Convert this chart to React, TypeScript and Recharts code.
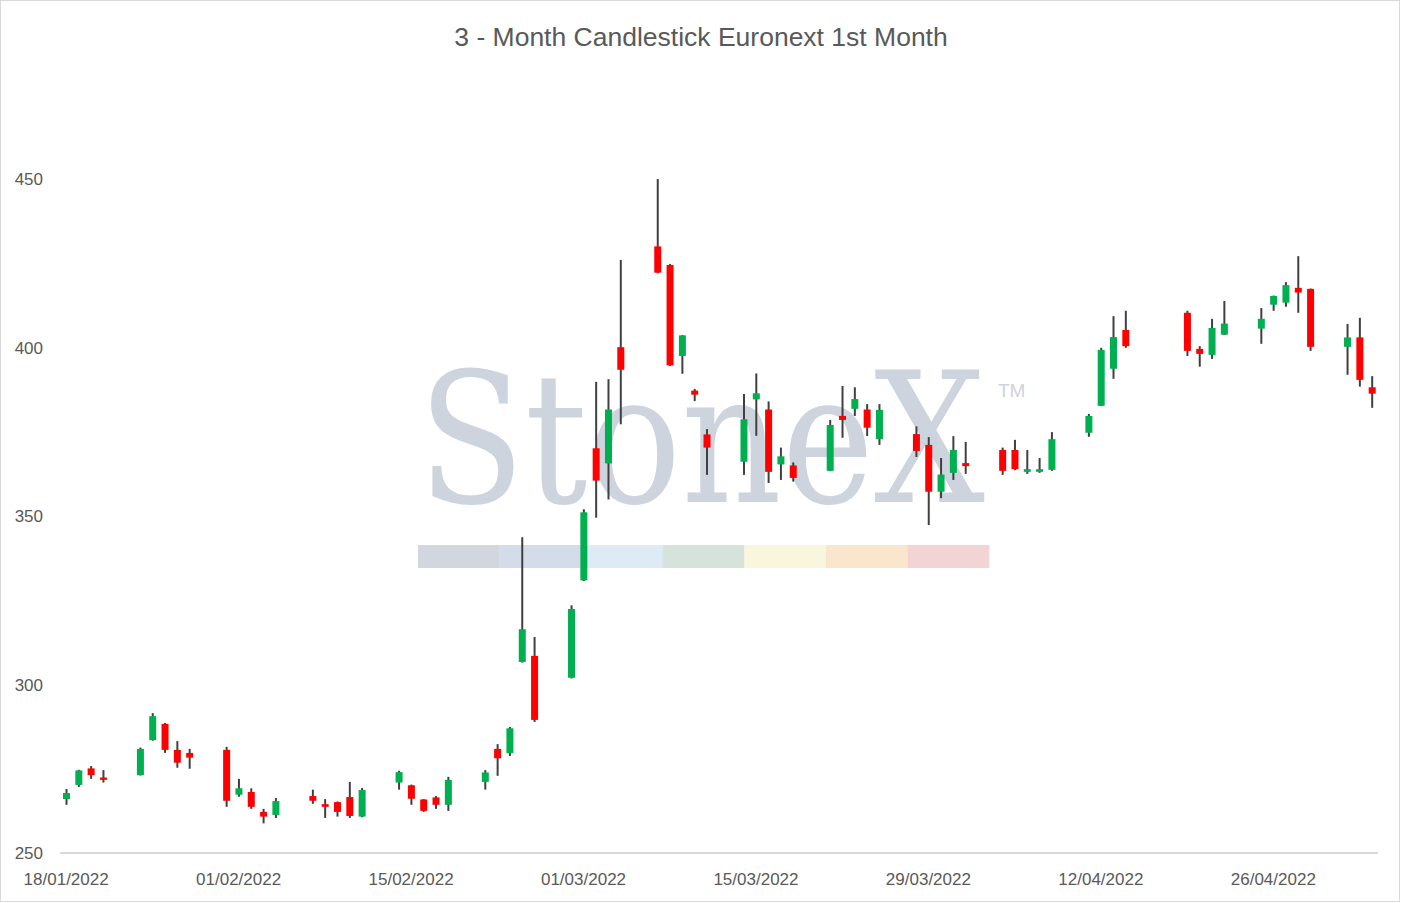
import { Bar, ComposedChart, XAxis, YAxis } from 'recharts';

// trading days, dd/mm/yyyy
const dates = [
  '18/01/2022', '19/01/2022', '20/01/2022', '21/01/2022', '24/01/2022', '25/01/2022', '26/01/2022',
  '27/01/2022', '28/01/2022', '31/01/2022', '01/02/2022', '02/02/2022', '03/02/2022', '04/02/2022',
  '07/02/2022', '08/02/2022', '09/02/2022', '10/02/2022', '11/02/2022', '14/02/2022', '15/02/2022',
  '16/02/2022', '17/02/2022', '18/02/2022', '21/02/2022', '22/02/2022', '23/02/2022', '24/02/2022',
  '25/02/2022', '28/02/2022', '01/03/2022', '02/03/2022', '03/03/2022', '04/03/2022', '07/03/2022',
  '08/03/2022', '09/03/2022', '10/03/2022', '11/03/2022', '14/03/2022', '15/03/2022', '16/03/2022',
  '17/03/2022', '18/03/2022', '21/03/2022', '22/03/2022', '23/03/2022', '24/03/2022', '25/03/2022',
  '28/03/2022', '29/03/2022', '30/03/2022', '31/03/2022', '01/04/2022', '04/04/2022', '05/04/2022',
  '06/04/2022', '07/04/2022', '08/04/2022', '11/04/2022', '12/04/2022', '13/04/2022', '14/04/2022',
  '19/04/2022', '20/04/2022', '21/04/2022', '22/04/2022', '25/04/2022', '26/04/2022', '27/04/2022',
  '28/04/2022', '29/04/2022', '02/05/2022', '03/05/2022', '04/05/2022',
];

const opens = [
  266.0, 270.2, 275.1, 272.4, 273.1, 283.5, 288.3, 280.6, 279.7, 280.6, 267.3, 268.1, 262.2, 261.3,
  266.9, 264.5, 265.1, 266.6, 260.8, 270.9, 270.1, 265.9, 266.5, 264.3, 271.1, 280.9, 279.6, 306.7,
  308.5, 302.0, 330.9, 370.1, 365.6, 400.1, 430.0, 424.5, 397.5, 387.2, 374.2, 366.1, 384.6, 381.6,
  365.3, 365.0, 363.4, 379.7, 381.8, 381.6, 372.8, 374.3, 371.1, 357.2, 362.8, 365.7, 369.6, 369.6,
  363.1, 363.1, 363.7, 374.7, 382.7, 393.7, 405.2, 410.3, 399.6, 397.8, 403.8, 405.6, 412.7, 413.3,
  417.7, 417.4, 400.2, 403.0, 388.2,
];

const highs = [
  269.0, 274.7, 275.8, 274.6, 281.3, 291.5, 288.6, 283.2, 280.9, 281.5, 272.0, 269.2, 263.1, 266.3,
  268.8, 266.0, 265.3, 271.1, 269.3, 274.4, 270.3, 266.0, 266.9, 272.6, 274.6, 282.3, 287.4, 343.7,
  314.1, 323.5, 352.0, 389.8, 390.6, 426.0, 450.0, 424.8, 403.7, 387.7, 375.8, 386.2, 392.3, 384.0,
  370.3, 365.9, 378.5, 388.6, 388.2, 383.2, 383.2, 376.6, 373.4, 367.2, 373.7, 372.0, 370.3, 372.6,
  369.6, 367.2, 374.9, 380.3, 399.9, 409.3, 410.9, 410.9, 400.4, 408.5, 413.8, 411.7, 415.4, 419.4,
  427.1, 417.5, 407.0, 408.8, 391.5,
];

const lows = [
  264.3, 269.6, 272.0, 270.9, 273.0, 283.3, 279.7, 275.3, 275.0, 263.7, 266.7, 263.1, 258.8, 260.4,
  264.6, 260.4, 260.8, 260.4, 260.6, 268.8, 264.3, 262.2, 263.1, 262.5, 268.8, 272.9, 278.8, 306.5,
  288.9, 301.8, 330.7, 349.5, 354.9, 377.2, 422.0, 394.5, 392.2, 384.1, 362.2, 362.2, 373.8, 359.8,
  360.7, 360.2, 363.3, 373.2, 379.7, 373.7, 371.1, 367.5, 347.3, 355.3, 360.7, 362.5, 362.2, 363.6,
  362.5, 362.8, 363.4, 373.5, 382.6, 390.7, 399.9, 397.5, 394.3, 396.6, 403.7, 401.1, 410.9, 412.1,
  410.3, 399.0, 391.9, 388.4, 382.1,
];

const closes = [
  267.8, 274.5, 273.1, 271.7, 280.9, 290.6, 280.6, 276.8, 278.3, 265.5, 269.2, 263.7, 260.8, 265.4,
  265.5, 263.7, 262.2, 261.0, 268.7, 274.0, 266.1, 262.5, 264.3, 271.7, 273.9, 278.1, 287.0, 316.4,
  289.5, 322.4, 351.1, 360.5, 381.6, 393.4, 422.2, 394.7, 403.6, 386.0, 370.3, 378.7, 386.4, 363.1,
  367.7, 361.3, 377.0, 378.5, 384.7, 376.2, 381.5, 369.3, 357.2, 362.3, 369.6, 364.8, 363.4, 363.9,
  363.9, 363.9, 372.8, 379.7, 399.3, 403.1, 400.4, 399.0, 398.1, 405.8, 407.1, 408.5, 415.3, 418.5,
  416.3, 400.2, 403.0, 390.4, 386.3,
];

const xTickDates = [
  '18/01/2022', '01/02/2022', '15/02/2022', '01/03/2022', '15/03/2022', '29/03/2022', '12/04/2022', '26/04/2022',
];
const yTicks = [250, 300, 350, 400, 450];

const DAY = 86400000;
const toTime = (s: string) => {
  const [d, m, y] = s.split('/').map(Number);
  return Date.UTC(y, m - 1, d);
};
const fmtDate = (t: number) => {
  const d = new Date(t);
  const p = (n: number) => String(n).padStart(2, '0');
  return `${p(d.getUTCDate())}/${p(d.getUTCMonth() + 1)}/${d.getUTCFullYear()}`;
};

const data = dates.map((s, i) => ({
  t: toTime(s),
  open: opens[i],
  high: highs[i],
  low: lows[i],
  close: closes[i],
}));

const xTicks = xTickDates.map(toTime);
const xDomain = [data[0].t - DAY / 2, data[data.length - 1].t + DAY / 2];

const UP = '#00b050';
const DOWN = '#ff0000';
const WICK = '#404040';
const TEXT = '#595959';
const FONT = '"Liberation Sans", Arial, sans-serif';

const Candle = (props: any) => {
  const { x, y, width, height } = props;
  const p = props.payload ?? props;
  const { open, close, high, low } = p;
  const top = Math.min(y, y + height);
  const bottom = Math.max(y, y + height);
  const span = high - low || 1;
  const yOf = (v: number) => top + ((high - v) / span) * (bottom - top);
  const cx = x + width / 2;
  const bTop = yOf(Math.max(open, close));
  const bBot = yOf(Math.min(open, close));
  const bw = 7;
  return (
    <g>
      <line x1={cx} x2={cx} y1={top} y2={bottom} stroke={WICK} strokeWidth={2} />
      <rect
        x={cx - bw / 2}
        y={bTop}
        width={bw}
        height={Math.max(bBot - bTop, 1.5)}
        fill={close >= open ? UP : DOWN}
      />
    </g>
  );
};

const barColors = ['#d2d7df', '#d3dce8', '#deebf5', '#d5e3da', '#f8f7dd', '#fae6cd', '#f2d4d5'];

const Background = () => (
  <svg width={1401} height={903} style={{ position: 'absolute', left: 0, top: 0 }}>
    <rect x={0.5} y={0.5} width={1399} height={901} fill="#ffffff" stroke="#d9d9d9" />
    <text x={701} y={46} textAnchor="middle" fill={TEXT} fontFamily={FONT} fontSize={26.5}>
      3 - Month Candlestick Euronext 1st Month
    </text>
    {/* StoneX watermark, squeezed so its box ends where the letters end */}
    <text
      transform="translate(418 502) scale(0.8617 1)"
      fill="#cdd4dd"
      fontFamily='"DejaVu Serif", "Liberation Serif", serif'
      fontSize={182}
      textLength={658}
      lengthAdjust="spacingAndGlyphs"
    >
      StoneX
    </text>
    <text x={998} y={397} fill="#cdd4dd" fontFamily={FONT} fontSize={19}>
      TM
    </text>
    {barColors.map((c, i) => (
      <rect key={c} x={418 + i * 81.6} y={545} width={81.8} height={23} fill={c} />
    ))}
  </svg>
);

export default function App() {
  return (
    <div style={{ position: 'absolute', left: 0, top: 0, width: 1401, height: 903, fontFamily: FONT }}>
      <Background />
      <div style={{ position: 'absolute', left: 0, top: 0 }}>
        <ComposedChart width={1401} height={903} data={data} margin={{ top: 179, right: 23, bottom: 20, left: 0 }}>
          <XAxis
            dataKey="t"
            type="number"
            scale="linear"
            domain={xDomain}
            ticks={xTicks}
            interval={0}
            tickFormatter={fmtDate}
            tickLine={false}
            tickSize={0}
            tickMargin={20}
            axisLine={{ stroke: '#d9d9d9', strokeWidth: 2 }}
            tick={{ fill: TEXT, fontSize: 17, fontFamily: FONT }}
            height={30}
            allowDataOverflow
          />
          <YAxis
            type="number"
            domain={[250, 450]}
            ticks={yTicks}
            interval={0}
            axisLine={false}
            tickLine={false}
            tickSize={0}
            tickMargin={17}
            width={60}
            tick={{ fill: TEXT, fontSize: 17, fontFamily: FONT }}
            allowDataOverflow
          />
          <Bar
            dataKey={(d: any) => [d.low, d.high]}
            shape={Candle}
            barSize={7}
            isAnimationActive={false}
          />
        </ComposedChart>
      </div>
    </div>
  );
}
